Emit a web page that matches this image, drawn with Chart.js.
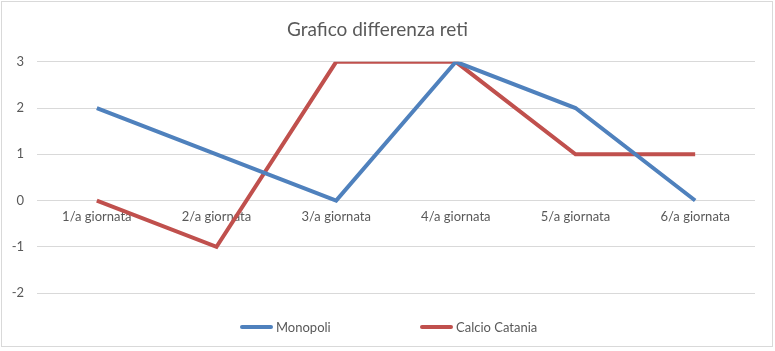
<!DOCTYPE html>
<html>
<head>
<meta charset="utf-8">
<script src="https://cdn.jsdelivr.net/npm/chart.js@4"></script>
<style>
  html, body { margin: 0; padding: 0; background: #fff; }
  #wrap { position: relative; width: 775px; height: 351px; }
  #frame { position: absolute; left: 1px; top: 1px; width: 770px; height: 344px; border: 1px solid #d9d9d9; pointer-events: none; }
  .legend { position: absolute; top: 319px; font: 13px Lato, sans-serif; color: #595959; display: flex; align-items: center; height: 16px; }
  .legend span.line { display: inline-block; width: 33px; height: 4px; border-radius: 2px; margin-right: 3px; }
</style>
</head>
<body>
<div id="wrap">
  <canvas id="chart" width="775" height="351"></canvas>
  <div id="frame"></div>
  <div class="legend" style="left:240px"><span class="line" style="background:#4f81bd"></span>Monopoli</div>
  <div class="legend" style="left:420px"><span class="line" style="background:#c0504d"></span>Calcio Catania</div>
</div>
<script>
// dati del grafico
const giornate = ['1/a giornata', '2/a giornata', '3/a giornata', '4/a giornata', '5/a giornata', '6/a giornata'];
const monopoli = [2, 1, 0, 3, 2, 0];
const catania = [0, -1, 3, 3, 1, 1];
const yTicks = [-2, -1, 0, 1, 2, 3];

const grigio = '#595959';

new Chart(document.getElementById('chart').getContext('2d'), {
  type: 'line',
  data: {
    labels: giornate,
    datasets: [
      { label: 'Monopoli', data: monopoli, borderColor: '#4f81bd', backgroundColor: '#4f81bd', borderWidth: 4, pointRadius: 0, tension: 0 },
      { label: 'Calcio Catania', data: catania, borderColor: '#c0504d', backgroundColor: '#c0504d', borderWidth: 4, pointRadius: 0, tension: 0 },
    ],
  },
  options: {
    responsive: false,
    animation: false,
    layout: { padding: { top: 10, left: 0, right: 20, bottom: 58 } },
    plugins: {
      legend: { display: false },
      tooltip: { enabled: false },
      title: {
        display: true,
        text: 'Grafico differenza reti',
        color: grigio,
        font: { family: 'Lato', size: 19, weight: 'normal' },
        padding: { top: 8, bottom: 21 },
      },
    },
    scales: {
      x: {
        position: { y: 0 },
        offset: true,
        grid: { display: false, drawTicks: false },
        border: { display: false },
        ticks: { color: grigio, font: { family: 'Lato', size: 13 }, padding: 8, maxRotation: 0 },
      },
      y: {
        min: yTicks[0],
        max: yTicks[yTicks.length - 1],
        afterBuildTicks: (s) => { s.ticks = yTicks.map(v => ({ value: v })); },
        afterFit: (s) => { s.width = 37; },
        grid: { color: '#d9d9d9', drawTicks: false },
        border: { display: false },
        ticks: { color: grigio, font: { family: 'Lato', size: 13 }, padding: 13 },
      },
    },
  },
});
</script>
</body>
</html>
